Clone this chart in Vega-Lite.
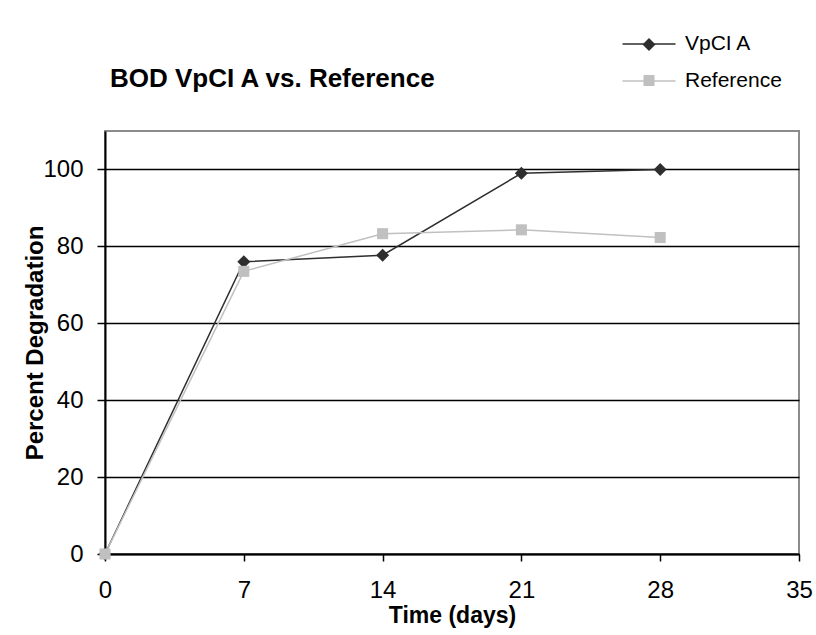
{
  "$schema": "https://vega.github.io/schema/vega-lite/v6.json",
  "width": 694,
  "height": 423,
  "autosize": "none",
  "padding": {"left": 105, "top": 131, "right": 17, "bottom": 81},
  "background": "white",
  "title": {
    "text": "BOD VpCI A vs. Reference",
    "anchor": "start",
    "frame": "group",
    "dx": 5,
    "offset": -59,
    "font": "Liberation Sans",
    "fontSize": 26,
    "fontWeight": "bold",
    "color": "black"
  },
  "data": {
    "values": [
      {"day": 0, "pct": 0, "series": "VpCI A"},
      {"day": 7, "pct": 76, "series": "VpCI A"},
      {"day": 14, "pct": 77.7, "series": "VpCI A"},
      {"day": 21, "pct": 99, "series": "VpCI A"},
      {"day": 28, "pct": 100, "series": "VpCI A"},
      {"day": 0, "pct": 0, "series": "Reference"},
      {"day": 7, "pct": 73.5, "series": "Reference"},
      {"day": 14, "pct": 83.3, "series": "Reference"},
      {"day": 21, "pct": 84.3, "series": "Reference"},
      {"day": 28, "pct": 82.3, "series": "Reference"}
    ]
  },
  "encoding": {
    "x": {
      "field": "day",
      "type": "quantitative",
      "scale": {"domain": [0, 35], "nice": false, "zero": false},
      "axis": {
        "values": [0, 7, 14, 21, 28, 35],
        "grid": false,
        "labelFlush": false,
        "title": "Time (days)",
        "titleFont": "Liberation Sans",
        "titleFontSize": 23,
        "titleFontWeight": "bold",
        "titleColor": "black",
        "titlePadding": 2,
        "labelFont": "Liberation Sans",
        "labelFontSize": 24,
        "labelColor": "black",
        "labelPadding": 17,
        "tickSize": 7,
        "tickColor": "black",
        "tickWidth": 1.5,
        "domainColor": "black",
        "domainWidth": 2
      }
    },
    "y": {
      "field": "pct",
      "type": "quantitative",
      "scale": {"domain": [0, 110], "nice": false},
      "axis": {
        "values": [0, 20, 40, 60, 80, 100],
        "grid": true,
        "gridColor": "black",
        "gridWidth": 1.5,
        "gridOpacity": 1,
        "title": "Percent Degradation",
        "titleFont": "Liberation Sans",
        "titleFontSize": 24,
        "titleFontWeight": "bold",
        "titleColor": "black",
        "titlePadding": -5,
        "labelFont": "Liberation Sans",
        "labelFontSize": 24,
        "labelColor": "black",
        "labelPadding": 14,
        "tickSize": 8,
        "tickColor": "black",
        "tickWidth": 1.5,
        "domainColor": "black",
        "domainWidth": 2
      }
    }
  },
  "layer": [
    {
      "mark": {"type": "line", "strokeWidth": 1.5},
      "encoding": {
        "color": {
          "field": "series",
          "type": "nominal",
          "scale": {"domain": ["VpCI A", "Reference"], "range": ["#2e2e2e", "#c0c0c0"]},
          "legend": {
            "title": null,
            "orient": "none",
            "legendX": 533,
            "legendY": -98,
            "padding": 0,
            "symbolSize": 400,
            "symbolType": "M-2.65,0H2.65",
            "symbolStrokeWidth": 1.5,
            "labelOffset": 25,
            "rowPadding": 16,
            "labelFont": "Liberation Sans",
            "labelFontSize": 21,
            "labelColor": "black"
          }
        }
      }
    },
    {
      "mark": {"type": "point", "filled": true, "opacity": 1, "size": 169},
      "encoding": {
        "fill": {
          "field": "series",
          "type": "nominal",
          "scale": {"domain": ["Reference", "VpCI A"], "range": ["#c0c0c0", "#2e2e2e"]},
          "legend": {
            "title": null,
            "values": ["VpCI A", "Reference"],
            "orient": "none",
            "legendX": 536.5,
            "legendY": -94,
            "padding": 0,
            "symbolSize": 169,
            "symbolOpacity": 1,
            "labelExpr": "''",
            "labelOffset": 0,
            "labelFontSize": 1,
            "rowPadding": 17
          }
        },
        "shape": {
          "field": "series",
          "type": "nominal",
          "scale": {"domain": ["Reference", "VpCI A"], "range": ["M-0.85,-0.85H0.85V0.85H-0.85Z", "M0,-1L1,0L0,1L-1,0Z"]},
          "legend": {
            "title": null,
            "values": ["VpCI A", "Reference"],
            "orient": "none",
            "legendX": 536.5,
            "legendY": -94,
            "padding": 0,
            "symbolSize": 169,
            "symbolOpacity": 1,
            "labelExpr": "''",
            "labelOffset": 0,
            "labelFontSize": 1,
            "rowPadding": 17
          }
        }
      }
    }
  ],
  "config": {
    "view": {"stroke": "#8c8c8c", "strokeWidth": 2},
    "font": "Liberation Sans"
  }
}
